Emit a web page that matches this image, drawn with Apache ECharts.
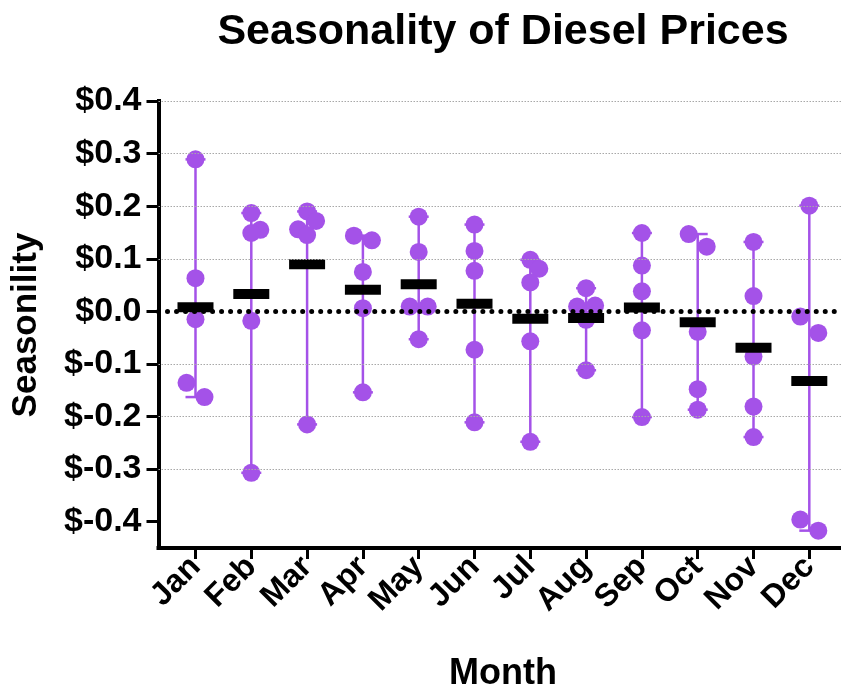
<!DOCTYPE html>
<html><head><meta charset="utf-8">
<script src="https://cdn.jsdelivr.net/npm/echarts@6/dist/echarts.min.js"></script>
<style>html,body{margin:0;padding:0;background:#fff}#c{width:841px;height:689px}</style>
</head><body><div id="c"></div>
<script>
// ---- data ----
const months = ['Jan','Feb','Mar','Apr','May','Jun','Jul','Aug','Sep','Oct','Nov','Dec'];
const jan = [0.289, 0.063, -0.015, -0.136, -0.163];
const feb = [0.187, 0.155, 0.149, -0.018, -0.307];
const mar = [0.190, 0.172, 0.156, 0.145, -0.215];
const apr = [0.144, 0.135, 0.075, 0.006, -0.154];
const may = [0.180, 0.113, 0.009, 0.009, -0.053];
const jun = [0.165, 0.115, 0.077, -0.073, -0.211];
const jul = [0.098, 0.081, 0.055, -0.057, -0.248];
const aug = [0.044, 0.011, 0.009, -0.016, -0.112];
const sep = [0.149, 0.087, 0.038, -0.036, -0.201];
const oct = [0.147, 0.123, -0.039, -0.148, -0.187];
const nov = [0.132, 0.029, -0.086, -0.181, -0.239];
const dec = [0.201, -0.010, -0.041, -0.396, -0.417];
const yTicks = [-0.4, -0.3, -0.2, -0.1, 0, 0.1, 0.2, 0.3, 0.4];
const gridValues = [0.4, 0.3, 0.2, 0.1, -0.1, -0.2, -0.3];
const zeroValue = [0];

// ---- layout / style ----
const W = 841, H = 689;
const G = {left: 158.5, right: 0, top: 101, bottom: 141};
const X_MIN = 0.337, X_MAX = 12.568, Y_MIN = -0.45, Y_MAX = 0.4;
const PURPLE = '#a452e8';
const DOT = 18, COL = 9, COLLIDE = 19;
const FONT = '"Liberation Sans", Arial, Helvetica, sans-serif';
const pxPerX = (W - G.left - G.right) / (X_MAX - X_MIN);
const pxPerY = (H - G.top - G.bottom) / (Y_MAX - Y_MIN);

const all = [jan, feb, mar, apr, may, jun, jul, aug, sep, oct, nov, dec];

// simple beeswarm: columns 0, +COL, -COL, ...
function swarm(vals) {
  const pts = vals.map(v => ({v, off: 0})).sort((a, b) => b.v - a.v);
  const cols = [0, COL, -COL, 2 * COL, -2 * COL];
  const placed = [];
  pts.forEach(p => {
    for (const c of cols) {
      const hit = placed.some(q => q.off === c && Math.abs(q.v - p.v) * pxPerY < COLLIDE);
      if (!hit) { p.off = c; break; }
    }
    placed.push(p);
  });
  const n = pts.length;
  const parent = pts.map((_, i) => i);
  const find = i => parent[i] === i ? i : (parent[i] = find(parent[i]));
  for (let i = 0; i < n; i++) for (let j = i + 1; j < n; j++)
    if (Math.abs(pts[i].v - pts[j].v) * pxPerY < COLLIDE) parent[find(i)] = find(j);
  const groups = {};
  pts.forEach((p, i) => { (groups[find(i)] = groups[find(i)] || []).push(p); });
  Object.values(groups).forEach(g => {
    if (g.length === 2) { const z = g.find(p => p.off === 0); if (z) z.off = -COL; }
  });
  return pts;
}

const dotData = [], meanData = [], rangeData = [];
all.forEach((vals, i) => {
  const x = i + 1;
  swarm(vals).forEach(p => dotData.push([x + p.off / pxPerX, p.v]));
  const mean = vals.reduce((s, v) => s + v, 0) / vals.length;
  meanData.push([x, mean]);
  rangeData.push([x, Math.min(...vals), Math.max(...vals)]);
});

const chart = echarts.init(document.getElementById('c'), null, {renderer: 'canvas'});
chart.setOption({
  animation: false,
  backgroundColor: '#fff',
  grid: {left: G.left, right: G.right, top: G.top, bottom: G.bottom, containLabel: false},
  graphic: [
    {type: 'text', x: 503, y: 32.5, style: {text: 'Seasonality of Diesel Prices', font: 'bold 43px ' + FONT, fill: '#000', align: 'center', verticalAlign: 'middle'}},
    {type: 'text', x: 503, y: 674, style: {text: 'Month', font: 'bold 36px ' + FONT, fill: '#000', align: 'center', verticalAlign: 'middle'}},
    {type: 'text', x: 26, y: 325, rotation: Math.PI / 2, style: {text: 'Seasonility', font: 'bold 35px ' + FONT, fill: '#000', align: 'center', verticalAlign: 'middle'}}
  ],
  xAxis: {
    type: 'value', min: X_MIN, max: X_MAX,
    axisLine: {show: true, onZero: false, lineStyle: {color: '#000', width: 4, cap: 'square'}},
    axisTick: {show: true, customValues: months.map((_, i) => i + 1), length: 11, lineStyle: {color: '#000', width: 3}},
    axisLabel: {show: true, customValues: months.map((_, i) => i + 1), formatter: v => months[Math.round(v) - 1],
      rotate: 45, margin: 14, color: '#000', fontWeight: 'bold', fontSize: 32, fontFamily: FONT},
    splitLine: {show: false}
  },
  yAxis: {
    type: 'value', min: Y_MIN, max: Y_MAX,
    axisLine: {show: true, onZero: false, lineStyle: {color: '#000', width: 4, cap: 'square'}},
    axisTick: {show: true, customValues: yTicks, length: 12, lineStyle: {color: '#000', width: 3}},
    axisLabel: {show: true, customValues: yTicks, formatter: v => '$' + v.toFixed(1), margin: 17,
      color: '#000', fontWeight: 'bold', fontSize: 34, fontFamily: FONT},
    splitLine: {show: false}
  },
  series: [
    {
      type: 'line', data: [], silent: true, z: 1,
      markLine: {
        silent: true, symbol: 'none', label: {show: false}, animation: false,
        data: gridValues.map(v => ({yAxis: v, lineStyle: {color: '#a8a8a8', width: 1, type: [1.5, 1.5]}}))
          .concat(zeroValue.map(v => ({yAxis: v, lineStyle: {color: '#000', width: 5, type: [0.01, 9], cap: 'round'}})))
      }
    },
    {
      type: 'custom', z: 2, silent: true,
      encode: {x: 0, y: [1, 2]},
      data: rangeData,
      renderItem: (params, api) => {
        const x = api.value(0);
        const a = api.coord([x, api.value(1)]), b = api.coord([x, api.value(2)]);
        const st = {stroke: PURPLE, lineWidth: 2.5, fill: null};
        return {type: 'group', children: [
          {type: 'line', shape: {x1: a[0], y1: a[1], x2: b[0], y2: b[1]}, style: st},
          {type: 'line', shape: {x1: a[0] - 10, y1: a[1], x2: a[0] + 10, y2: a[1]}, style: st},
          {type: 'line', shape: {x1: b[0] - 10, y1: b[1], x2: b[0] + 10, y2: b[1]}, style: st}
        ]};
      }
    },
    {
      type: 'scatter', z: 3, silent: true, data: dotData, symbol: 'circle', symbolSize: DOT,
      itemStyle: {color: PURPLE, opacity: 1}
    },
    {
      type: 'scatter', z: 4, silent: true, data: meanData, symbol: 'rect', symbolSize: [36, 10],
      itemStyle: {color: '#000', opacity: 1}
    }
  ]
});
</script></body></html>
